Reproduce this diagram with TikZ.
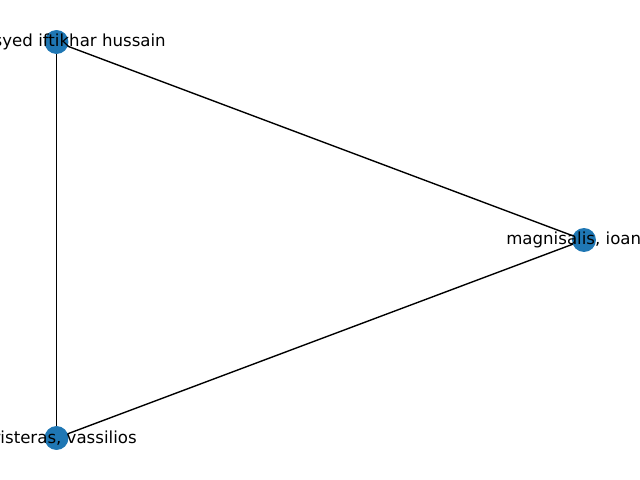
\documentclass[tikz,border=0pt]{standalone}
\usepackage{fontspec}
\setmainfont{DejaVu Sans}
\usepackage{tikz}
\usetikzlibrary{backgrounds}
\definecolor{nodeblue}{HTML}{1F77B4}
\tikzstyle{authornode}=[circle,%
                          fill=nodeblue,%
                          inner sep=0pt,%
                          minimum size=17.3pt]
\tikzstyle{namelabel}=[inner sep=0pt,font=\fontsize{12}{14}\selectfont]
\tikzstyle{coauthor}=[draw=black,line width=1pt]

\begin{document}
\begin{tikzpicture}[x=0.01in,y=-0.01in]
            \useasboundingbox (0,0) rectangle (640,480);
            \node[authornode] (syed) at (56.5,42) {};
            \node[authornode] (magn) at (584,240) {};
            \node[authornode] (peri) at (56.5,438) {};
            \node[namelabel,anchor=east] (syedlbl) at (166,42) {syed iftikhar hussain};
            \node[namelabel,anchor=west] (magnlbl) at (506,240) {magnisalis, ioan};
            \node[namelabel,anchor=east] (perilbl) at (137,438) {risteras, vassilios};
            \begin{pgfonlayer}{background}
            \draw[coauthor] (syed.center) -- (magn.center);
            \draw[coauthor] (syed.center) -- (peri.center);
            \draw[coauthor] (peri.center) -- (magn.center);
            \end{pgfonlayer}
\end{tikzpicture}
\end{document}
